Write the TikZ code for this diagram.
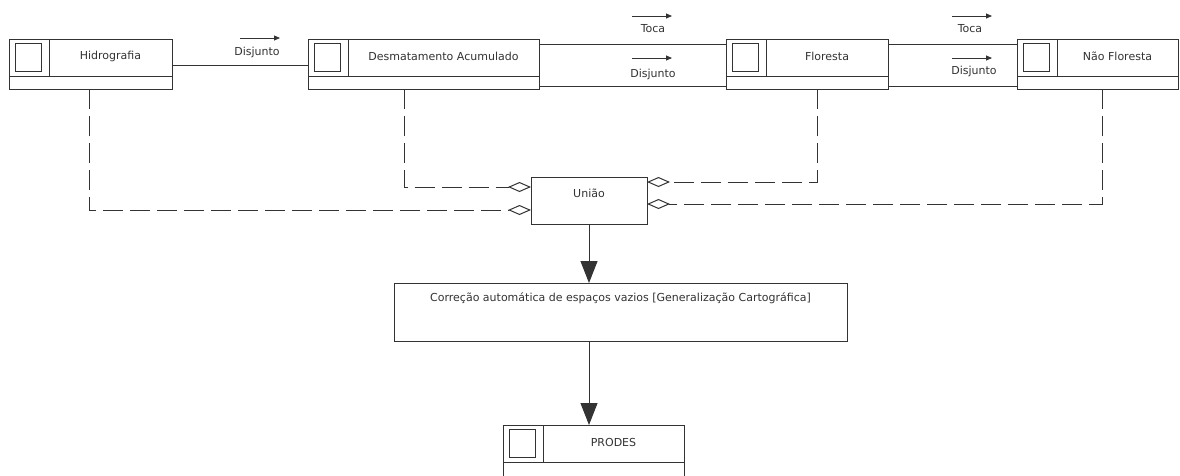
\documentclass[tikz,border=0pt]{standalone}
\usepackage{fontspec}
\setmainfont{DejaVu Sans}
\usetikzlibrary{arrows.meta,calc}
\tikzset{
  ln/.style={draw=black!80, line width=1pt},
  cls/.style={ln, rectangle, minimum height=50pt, inner sep=0pt, outer sep=0pt},
  box/.style={ln, rectangle, inner sep=0pt, outer sep=0pt},
  lbl/.style={font=\fontsize{11}{13}\selectfont, text=black!80, inner sep=0pt},
  lblarrow/.style={draw=black!80, line width=0.8pt, -{Triangle[length=6pt,width=5pt]}},
  agg/.style={draw=black!80, line width=1pt, dash pattern=on 20pt off 7pt, -{Diamond[open,length=23pt,width=10pt,line width=1pt]}},
  flow/.style={draw=black!80, line width=1pt, -{Triangle[length=22pt,width=17pt]}},
}
\newcommand\classbox[6]{% name, x1, x2, ytop, height, text
  \node[cls, minimum width={#3-#2}, minimum height=#5, anchor=north west] (#1) at (#2,#4) {};
  \draw[ln] ([yshift=-37pt]#1.north west) -- ([yshift=-37pt]#1.north east);
  \draw[ln] ([xshift=40pt]#1.north west) -- ([xshift=40pt,yshift=-37pt]#1.north west);
  \draw[ln] ([xshift=6pt,yshift=-4pt]#1.north west) rectangle ([xshift=32pt,yshift=-32pt]#1.north west);
  \node[lbl] (#1-t) at ($([xshift=40pt,yshift=3pt]#1.north west)!0.5!([yshift=-37pt]#1.north east)$) {#6};
}
\begin{document}
\begin{tikzpicture}[x=1pt,y=-1pt]
\fill[white] (0,0) rectangle (1180,475);
\useasboundingbox (0,0) rectangle (1180,475);
\clip (0,0) rectangle (1180,475);

\classbox{hid}{9}{172}{39}{50pt}{Hidrografia}
\classbox{des}{308}{539}{39}{50pt}{Desmatamento Acumulado}
\classbox{flo}{726}{888}{39}{50pt}{Floresta}
\classbox{nfl}{1017}{1178}{39}{50pt}{Não Floresta}
\classbox{pro}{503}{684}{425}{54pt}{PRODES}

\node[box, minimum width=116pt, minimum height=47pt, anchor=north west] (uni) at (531,177) {};
\node[lbl] at ([yshift=-16pt]uni.north) {União};

\node[box, minimum width=453pt, minimum height=58pt, anchor=north west] (cor) at (394,283) {};
\node[lbl] (cor-t) at ([yshift=-15pt]cor.north) {Correção automática de espaços vazios [Generalização Cartográfica]};

% associations
\draw[ln] ([yshift=-26pt]hid.north east) -- ([yshift=-26pt]des.north west);
\draw[ln] ([yshift=-5pt]des.north east) -- ([yshift=-5pt]flo.north west);
\draw[ln] ([yshift=-47pt]des.north east) -- ([yshift=-47pt]flo.north west);
\draw[ln] ([yshift=-5pt]flo.north east) -- ([yshift=-5pt]nfl.north west);
\draw[ln] ([yshift=-47pt]flo.north east) -- ([yshift=-47pt]nfl.north west);

% association labels
\node[lbl] (l1) at (257,52) {Disjunto};
\draw[lblarrow] (240,38) -- (280,38);
\node[lbl] (l2) at (653,29) {Toca};
\draw[lblarrow] (632,16) -- (672,16);
\node[lbl] (l3) at (653,74) {Disjunto};
\draw[lblarrow] (632,58) -- (672,58);
\node[lbl] (l4) at (970,29) {Toca};
\draw[lblarrow] (952,16) -- (992,16);
\node[lbl] (l5) at (974,71) {Disjunto};
\draw[lblarrow] (952,58) -- (992,58);

% aggregations
\draw[agg] ([xshift=-1.5pt]hid.south) |- ([yshift=-9.5pt]uni.west);
\draw[agg] ([xshift=-19pt]des.south) |- ([yshift=13.5pt]uni.west);
\draw[agg] ([xshift=10pt]flo.south) |- ([yshift=18.5pt]uni.east);
\draw[agg] ([xshift=4.5pt]nfl.south) |- ([yshift=-3.5pt]uni.east);

% flows
\draw[flow] (uni.south) -- (uni.south |- cor.north);
\draw[flow] (uni.south |- cor.south) -- (uni.south |- pro.north);
\end{tikzpicture}
\end{document}
